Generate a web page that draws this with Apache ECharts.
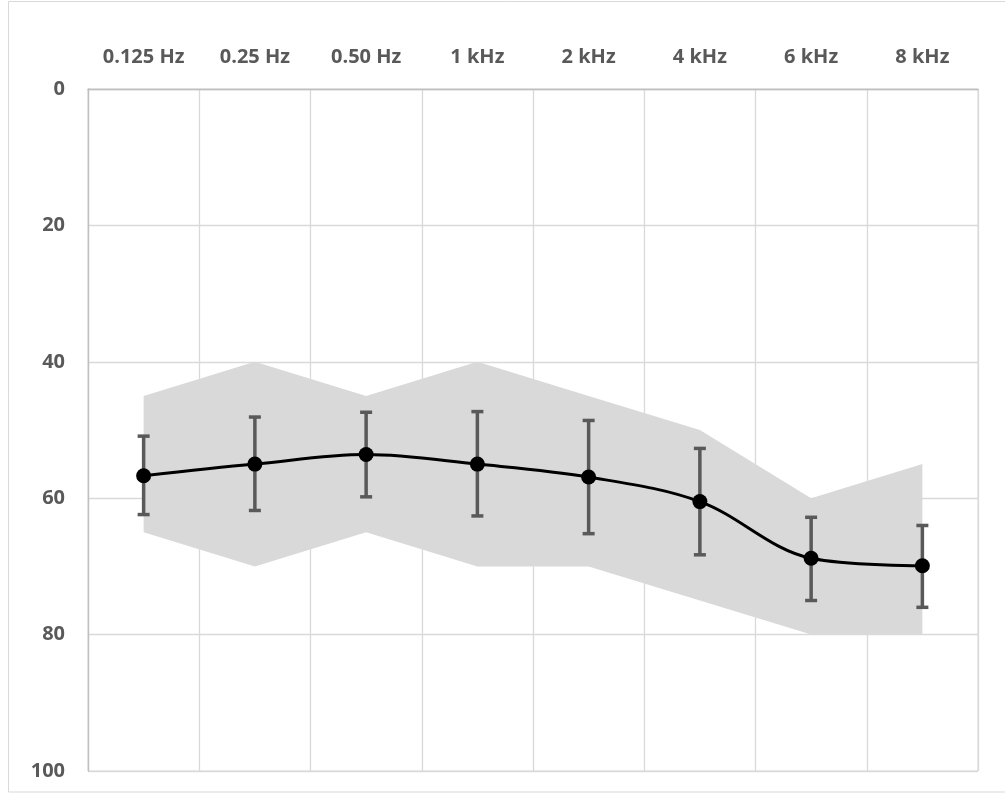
<!DOCTYPE html>
<html>
<head>
<meta charset="utf-8">
<script src="https://cdn.jsdelivr.net/npm/echarts@6/dist/echarts.min.js"></script>
<style>
  html, body { margin: 0; padding: 0; background: #ffffff; }
  #chart { width: 1005px; height: 793px; }
</style>
</head>
<body>
<div id="chart"></div>
<script>
// Frequencies along the top axis
const frequencies = ['0.125 Hz', '0.25 Hz', '0.50 Hz', '1 kHz', '2 kHz', '4 kHz', '6 kHz', '8 kHz'];
// Hearing level scale (dB), drawn downwards
const levelTicks = [0, 20, 40, 60, 80, 100];
// Mean threshold per frequency
const meanLevel = [56.7, 55.0, 53.6, 55.0, 56.9, 60.5, 68.8, 69.9];
// Error bar ends (upper = smaller dB value, lower = larger dB value)
const errUpper = [50.9, 48.1, 47.4, 47.3, 48.6, 52.7, 62.8, 64.0];
const errLower = [62.4, 61.8, 59.8, 62.6, 65.2, 68.3, 75.0, 76.0];
// Shaded range per frequency
const rangeTop = [45, 40, 45, 40, 45, 50, 60, 55];
const rangeBottom = [65, 70, 65, 70, 70, 75, 80, 80];

const labelColor = '#595959';
const gridColor = '#d9d9d9';

const chart = echarts.init(document.getElementById('chart'), null, { renderer: 'canvas' });

const rangeSpan = rangeBottom.map((v, i) => v - rangeTop[i]);
const errData = frequencies.map((f, i) => [i, errUpper[i], errLower[i]]);

chart.setOption({
  animation: false,
  backgroundColor: '#ffffff',
  graphic: [{
    type: 'rect',
    shape: { x: 8.5, y: 1.5, width: 1020, height: 790.5 },
    style: { fill: 'none', stroke: gridColor, lineWidth: 1 },
    silent: true,
    z: -1
  }],
  grid: {
    left: 88, right: 27, top: 89, bottom: 22,
    show: true, borderColor: gridColor, borderWidth: 1
  },
  xAxis: {
    type: 'category',
    position: 'top',
    data: frequencies,
    boundaryGap: true,
    axisLine: { show: true, lineStyle: { color: '#bfbfbf', width: 1.3 } },
    axisTick: { show: false },
    splitLine: { show: true, lineStyle: { color: gridColor, width: 1.3 } },
    axisLabel: {
      color: labelColor, fontFamily: 'Open Sans', fontWeight: 'bold',
      fontSize: 20, margin: 22, interval: 0
    }
  },
  yAxis: {
    type: 'value',
    inverse: true,
    min: levelTicks[0],
    max: levelTicks[levelTicks.length - 1],
    interval: levelTicks[1] - levelTicks[0],
    axisLine: { show: true, lineStyle: { color: '#bfbfbf', width: 1.3 } },
    axisTick: { show: false },
    splitLine: { show: true, lineStyle: { color: gridColor, width: 1.3 } },
    axisLabel: {
      color: labelColor, fontFamily: 'Open Sans', fontWeight: 'bold',
      fontSize: 20, margin: 23
    }
  },
  series: [
    {
      name: 'rangeBase',
      type: 'line',
      stack: 'range',
      data: rangeTop,
      symbol: 'none',
      lineStyle: { opacity: 0 },
      silent: true,
      z: 1
    },
    {
      name: 'range',
      type: 'line',
      stack: 'range',
      data: rangeSpan,
      symbol: 'none',
      lineStyle: { opacity: 0 },
      areaStyle: { color: '#d9d9d9', opacity: 1 },
      silent: true,
      z: 1
    },
    {
      name: 'errors',
      type: 'custom',
      data: errData,
      encode: { x: 0, y: [1, 2] },
      z: 3,
      renderItem: function (params, api) {
        const x = api.value(0);
        const top = api.coord([x, api.value(1)]);
        const bot = api.coord([x, api.value(2)]);
        const half = 6;
        const style = { stroke: '#595959', lineWidth: 3.5, fill: 'none' };
        return {
          type: 'group',
          children: [
            { type: 'line', shape: { x1: top[0], y1: top[1], x2: bot[0], y2: bot[1] }, style: style },
            { type: 'line', shape: { x1: top[0] - half, y1: top[1], x2: top[0] + half, y2: top[1] }, style: style },
            { type: 'line', shape: { x1: bot[0] - half, y1: bot[1], x2: bot[0] + half, y2: bot[1] }, style: style }
          ]
        };
      }
    },
    {
      name: 'mean',
      type: 'line',
      data: meanLevel,
      smooth: 0.35,
      symbol: 'circle',
      symbolSize: 15,
      itemStyle: { color: '#000000' },
      lineStyle: { color: '#000000', width: 3 },
      z: 5
    }
  ]
});
</script>
</body>
</html>
